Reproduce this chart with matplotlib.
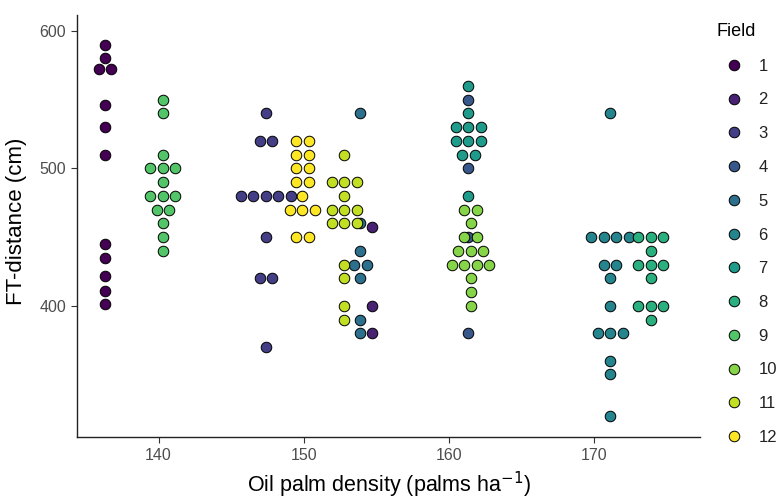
import numpy as np
import matplotlib
matplotlib.use("Agg")
import matplotlib.pyplot as plt
from matplotlib.lines import Line2D

plt.rcParams['font.family'] = ['Liberation Sans', 'DejaVu Sans']

# field id and its palm density (palms/ha)
fields = list(range(1, 13))
density = [136.3, 154.7, 147.4, 161.35, 153.9, 171.1, 161.35, 173.9, 140.3, 161.5, 152.8, 149.9]

# FT-distance (cm) per field
ft_1 = [590, 580, 572, 572, 546, 530, 510, 445, 435, 422, 411, 401]
ft_2 = [457, 400, 380]
ft_3 = [540, 520, 520, 480, 480, 480, 480, 480, 450, 420, 420, 370]
ft_4 = [550, 500, 450, 380]
ft_5 = [540, 460, 440, 430, 430, 420, 390, 380]
ft_6 = [540, 450, 450, 450, 450, 430, 430, 420, 400, 380, 380, 380, 360, 350, 320]
ft_7 = [560, 540, 530, 530, 530, 520, 520, 520, 510, 510, 480]
ft_8 = [450, 450, 450, 440, 430, 430, 430, 420, 400, 400, 400, 390]
ft_9 = [550, 540, 510, 500, 500, 500, 490, 480, 480, 480, 470, 470, 460, 450, 440]
ft_10 = [470, 470, 460, 450, 450, 440, 440, 440, 430, 430, 430, 430, 420, 410, 400]
ft_11 = [510, 490, 490, 490, 480, 470, 470, 470, 460, 460, 460, 430, 420, 400, 390]
ft_12 = [520, 520, 510, 510, 500, 500, 490, 490, 480, 470, 470, 470, 450, 450]
ft_all = [ft_1, ft_2, ft_3, ft_4, ft_5, ft_6, ft_7, ft_8, ft_9, ft_10, ft_11, ft_12]

colors = plt.cm.viridis(np.linspace(0, 1, len(fields)))

fig = plt.figure(figsize=(7.83, 5.01), dpi=100)
ax = fig.add_axes([77.3 / 783, 1 - 437 / 501, (700 - 77.3) / 783, (437 - 15) / 501])
ax.set_xlim(134.4, 177.3)
ax.set_ylim(304.5, 611.6)

# spacing between side-by-side dots, 12.5 px expressed in x data units
dot_gap = 12.5 * (177.3 - 134.4) / ax.bbox.width
ms = 7.6

for f, x0, vals, c in zip(fields, density, ft_all, colors):
    xs, ys = [], []
    for v in sorted(set(vals), reverse=True):
        n = vals.count(v)
        for i in range(n):
            xs.append(x0 + (i - (n - 1) / 2) * dot_gap)
            ys.append(v)
    ax.scatter(xs, ys, s=ms ** 2, color=c, edgecolor='black', linewidth=0.7, zorder=3)

ax.set_xticks([140, 150, 160, 170])
ax.set_yticks([400, 500, 600])
ax.tick_params(colors='#333333', labelcolor='#4D4D4D', labelsize=11.5, length=4.5, width=0.8)
for side in ['top', 'right']:
    ax.spines[side].set_visible(False)
for side in ['left', 'bottom']:
    ax.spines[side].set_linewidth(1.0)
    ax.spines[side].set_color('#222222')

ax.set_xlabel('Oil palm density (palms ha$^{-1}$)', fontsize=15.5)
ax.set_ylabel('FT-distance (cm)', fontsize=16)
ax.xaxis.set_label_coords(0.5, -0.078)
ax.yaxis.set_label_coords(-0.081, 0.51)

handles = [Line2D([], [], linestyle='none', marker='o', markersize=ms,
                  markerfacecolor=c, markeredgecolor='black', markeredgewidth=0.7)
           for c in colors]
leg = fig.legend(handles, [str(f) for f in fields], title='Field', loc='upper left',
                 bbox_to_anchor=(702 / 783, 1 - 8 / 501), frameon=False,
                 fontsize=12, title_fontsize=13, labelspacing=1.125,
                 handlelength=2.0, handletextpad=0.48, alignment='left')
for t in leg.get_texts():
    t.set_color('#222222')

fig.savefig('out.png', dpi=100)
